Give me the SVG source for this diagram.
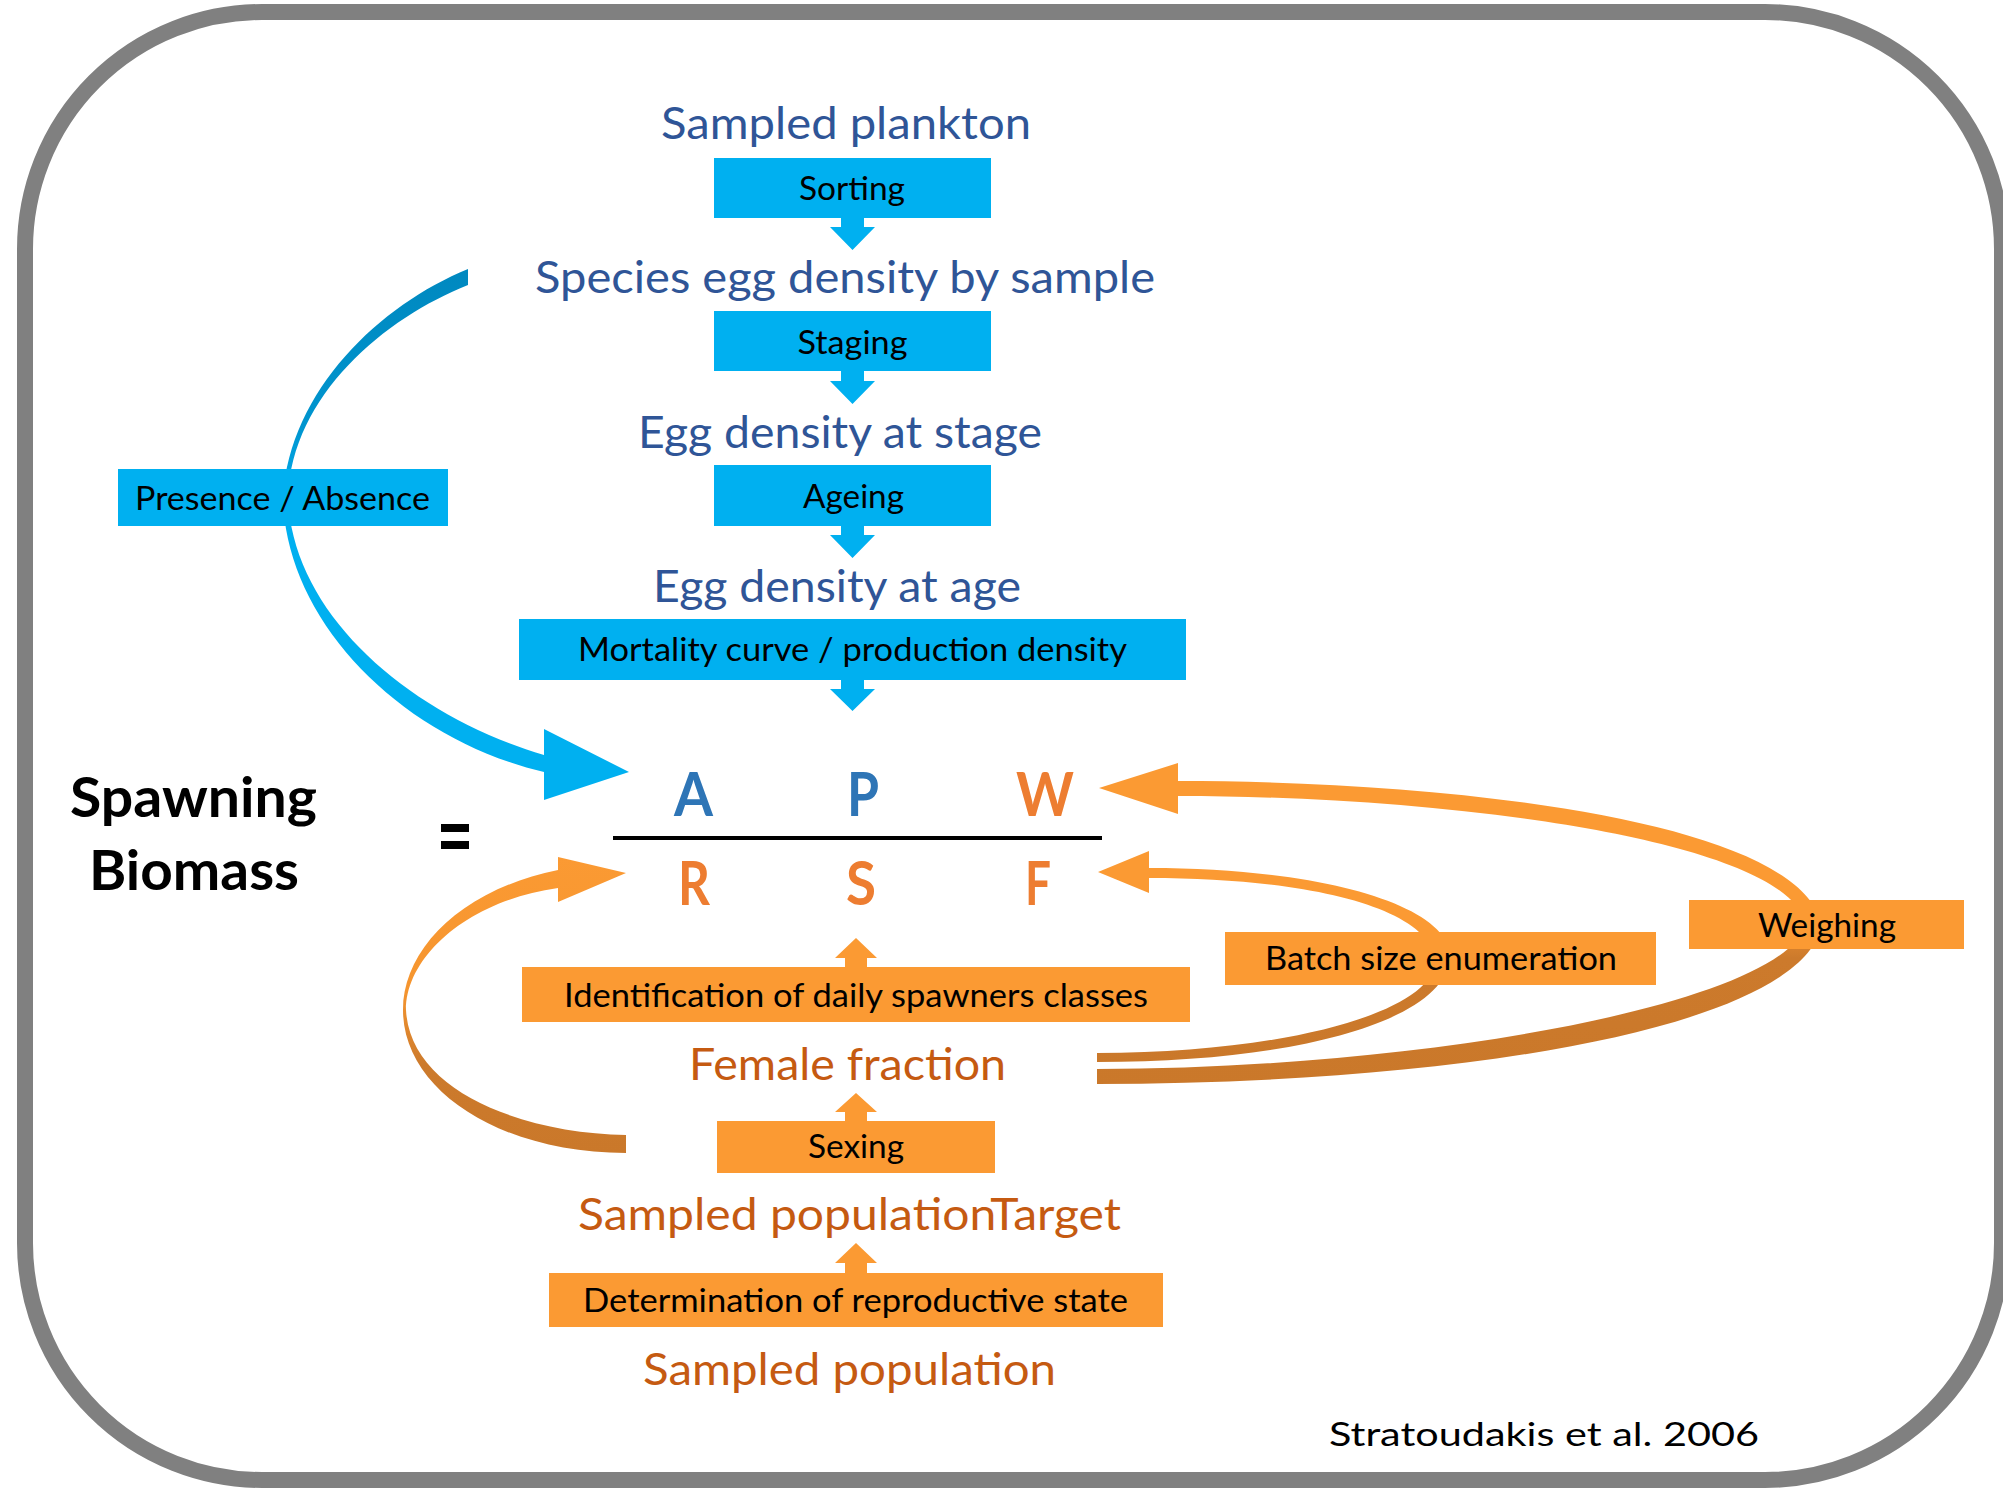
<svg xmlns="http://www.w3.org/2000/svg" width="2003" height="1489" viewBox="0 0 2003 1489">
<style>
  .t{font-family:Lato,"Open Sans","Liberation Sans",sans-serif;}
  .ttl{font-size:45px;fill:#2F5597;}
  .ott{font-size:45px;fill:#C55A11;}
  .bx{font-size:32px;fill:#000;}
  .big{font-size:56px;font-weight:bold;fill:#000;}
  .ltr{font-size:61px;font-weight:bold;}
  .bbox{fill:#00B0F0;}
  .obox{fill:#FB9A33;}
  .barr{fill:#00B0F0;}
  .oarr{fill:#FB9A33;}
</style>
<defs>
  <linearGradient id="gBlue" gradientUnits="userSpaceOnUse" x1="0" y1="265" x2="0" y2="805">
    <stop offset="0" stop-color="#0088BF"/>
    <stop offset="0.3" stop-color="#0095CF"/>
    <stop offset="0.45" stop-color="#00B0F0"/>
    <stop offset="1" stop-color="#00B0F0"/>
  </linearGradient>
  <linearGradient id="gR" gradientUnits="userSpaceOnUse" x1="0" y1="855" x2="0" y2="1155">
    <stop offset="0" stop-color="#FB9A33"/>
    <stop offset="0.45" stop-color="#F5952F"/>
    <stop offset="0.7" stop-color="#CC7A2C"/>
    <stop offset="1" stop-color="#CA782A"/>
  </linearGradient>
  <linearGradient id="gW" gradientUnits="userSpaceOnUse" x1="0" y1="760" x2="0" y2="1090">
    <stop offset="0" stop-color="#FB9A33"/>
    <stop offset="0.45" stop-color="#FB9A33"/>
    <stop offset="0.6" stop-color="#CC7A2C"/>
    <stop offset="1" stop-color="#CA782A"/>
  </linearGradient>
  <linearGradient id="gB" gradientUnits="userSpaceOnUse" x1="0" y1="850" x2="0" y2="1065">
    <stop offset="0" stop-color="#FB9A33"/>
    <stop offset="0.45" stop-color="#FB9A33"/>
    <stop offset="0.6" stop-color="#CC7A2C"/>
    <stop offset="1" stop-color="#CA782A"/>
  </linearGradient>
</defs>
<rect x="0" y="0" width="2003" height="1489" fill="#FFFFFF"/>
<rect id="frame" x="25" y="12" width="1977" height="1468" rx="237" ry="237" fill="#FFFFFF" stroke="#808080" stroke-width="16"/>

<g id="connectors">
  <!-- blue Presence/Absence curved arrow -->
  <path d="M468,269 C380,305 290,390 283,497 C285,620 400,738 544,772 L544,800 L629,772 L544,729 L544,755 C410,715 292,615 288,497 C292,395 385,318 468,285 Z" fill="url(#gBlue)"/>
  <!-- R curved arrow -->
  <path d="M626,1153 C500,1153 403,1090 403,1010 C403,950 460,890 558,870 L558,857 L626,873 L558,902 L558,888 C470,900 406,955 406,1010 C410,1090 520,1133 626,1135 Z" fill="url(#gR)"/>
  <!-- W curved arrow (Weighing) -->
  <path d="M1097,1084 C1450,1084 1800,1030 1822,925 C1800,820 1450,781 1178,781 L1178,763 L1099,788 L1178,814 L1178,796 C1450,796 1790,840 1806,925 C1780,1005 1420,1069 1097,1069 Z" fill="url(#gW)"/>
  <!-- F curved arrow (Batch size) -->
  <path d="M1097,1062 C1300,1062 1445,1020 1450,958 C1452,905 1320,868 1149,868 L1149,851 L1098,872 L1149,893 L1149,878 C1300,878 1425,905 1435,958 C1440,1010 1290,1053 1097,1053 Z" fill="url(#gB)"/>
  <!-- blue down arrows -->
  <path class="barr" d="M841,217 L864,217 L864,227 L875,227 L852.5,250 L830,227 L841,227 Z"/>
  <path class="barr" d="M841,370 L864,370 L864,381 L875,381 L852.5,404 L830,381 L841,381 Z"/>
  <path class="barr" d="M841,525 L864,525 L864,535 L875,535 L852.5,558 L830,535 L841,535 Z"/>
  <path class="barr" d="M841,679 L864,679 L864,689 L875,689 L852.5,711 L830,689 L841,689 Z"/>
  <!-- orange up arrows -->
  <path class="oarr" d="M845,968 L867,968 L867,958 L877,958 L856,938 L835,958 L845,958 Z"/>
  <path class="oarr" d="M845,1122 L867,1122 L867,1112 L877,1112 L856,1093 L835,1112 L845,1112 Z"/>
  <path class="oarr" d="M845,1274 L867,1274 L867,1263 L877,1263 L856,1243 L835,1263 L845,1263 Z"/>
</g>

<g id="plankton"><text class="t ttl" x="846" y="139" text-anchor="middle" textLength="370" lengthAdjust="spacingAndGlyphs">Sampled plankton</text></g>
<g id="sorting"><rect class="bbox" x="714" y="158" width="277" height="60"/><text class="t bx" x="852" y="200" text-anchor="middle" textLength="106" lengthAdjust="spacingAndGlyphs">Sorting</text></g>
<g id="species"><text class="t ttl" x="845" y="293" text-anchor="middle" textLength="620" lengthAdjust="spacingAndGlyphs">Species egg density by sample</text></g>
<g id="staging"><rect class="bbox" x="714" y="311" width="277" height="60"/><text class="t bx" x="852.5" y="354" text-anchor="middle" textLength="110" lengthAdjust="spacingAndGlyphs">Staging</text></g>
<g id="stage"><text class="t ttl" x="840" y="448" text-anchor="middle" textLength="404" lengthAdjust="spacingAndGlyphs">Egg density at stage</text></g>
<g id="ageing"><rect class="bbox" x="714" y="465" width="277" height="61"/><text class="t bx" x="853.5" y="508" text-anchor="middle" textLength="101" lengthAdjust="spacingAndGlyphs">Ageing</text></g>
<g id="age"><text class="t ttl" x="837" y="602" text-anchor="middle" textLength="368" lengthAdjust="spacingAndGlyphs">Egg density at age</text></g>
<g id="mortality"><rect class="bbox" x="519" y="619" width="667" height="61"/><text class="t bx" x="852.5" y="661" text-anchor="middle" textLength="549" lengthAdjust="spacingAndGlyphs">Mortality curve / production density</text></g>
<g id="presence"><rect class="bbox" x="118" y="469" width="330" height="57"/><text class="t bx" x="282.5" y="510" text-anchor="middle" textLength="295" lengthAdjust="spacingAndGlyphs">Presence / Absence</text></g>

<g id="spawning-biomass">
  <text class="t big" x="193.5" y="817" text-anchor="middle" textLength="247" lengthAdjust="spacingAndGlyphs">Spawning</text>
  <text class="t big" x="194" y="890" text-anchor="middle" textLength="210" lengthAdjust="spacingAndGlyphs">Biomass</text>
</g>
<g id="equals">
  <rect x="441" y="824" width="28" height="8" fill="#000"/>
  <rect x="441" y="841" width="28" height="8" fill="#000"/>
</g>
<g id="formula">
  <text class="t ltr" x="693.5" y="816" text-anchor="middle" fill="#2E75B6" textLength="39" lengthAdjust="spacingAndGlyphs">A</text>
  <text class="t ltr" x="863" y="816" text-anchor="middle" fill="#2E75B6" textLength="32" lengthAdjust="spacingAndGlyphs">P</text>
  <text class="t ltr" x="1045" y="816" text-anchor="middle" fill="#ED7D31" textLength="58" lengthAdjust="spacingAndGlyphs">W</text>
  <rect x="613" y="836" width="489" height="4" fill="#000"/>
  <text class="t ltr" x="694" y="905" text-anchor="middle" fill="#ED7D31" textLength="32" lengthAdjust="spacingAndGlyphs">R</text>
  <text class="t ltr" x="861" y="905" text-anchor="middle" fill="#ED7D31" textLength="30" lengthAdjust="spacingAndGlyphs">S</text>
  <text class="t ltr" x="1038" y="905" text-anchor="middle" fill="#ED7D31" textLength="26" lengthAdjust="spacingAndGlyphs">F</text>
</g>

<g id="weighing"><rect class="obox" x="1689" y="900" width="275" height="49"/><text class="t bx" x="1827" y="937" text-anchor="middle" textLength="138" lengthAdjust="spacingAndGlyphs">Weighing</text></g>
<g id="batch"><rect class="obox" x="1225" y="932" width="431" height="53"/><text class="t bx" x="1441" y="970" text-anchor="middle" textLength="352" lengthAdjust="spacingAndGlyphs">Batch size enumeration</text></g>
<g id="identification"><rect class="obox" x="522" y="967" width="668" height="55"/><text class="t bx" x="856" y="1007" text-anchor="middle" textLength="584" lengthAdjust="spacingAndGlyphs">Identification of daily spawners classes</text></g>
<g id="female"><text class="t ott" x="847.5" y="1080" text-anchor="middle" textLength="317" lengthAdjust="spacingAndGlyphs">Female fraction</text></g>
<g id="sexing"><rect class="obox" x="717" y="1121" width="278" height="52"/><text class="t bx" x="856" y="1158" text-anchor="middle" textLength="96" lengthAdjust="spacingAndGlyphs">Sexing</text></g>
<g id="target"><text class="t ott" x="849.5" y="1230" text-anchor="middle" textLength="543" lengthAdjust="spacingAndGlyphs">Sampled populationTarget</text></g>
<g id="determination"><rect class="obox" x="549" y="1273" width="614" height="54"/><text class="t bx" x="855.5" y="1312" text-anchor="middle" textLength="545" lengthAdjust="spacingAndGlyphs">Determination of reproductive state</text></g>
<g id="population"><text class="t ott" x="849.5" y="1385" text-anchor="middle" textLength="413" lengthAdjust="spacingAndGlyphs">Sampled population</text></g>
<g id="citation"><text class="t" x="1329" y="1446" font-size="33" fill="#000" textLength="430" lengthAdjust="spacingAndGlyphs">Stratoudakis et al. 2006</text></g>
</svg>
